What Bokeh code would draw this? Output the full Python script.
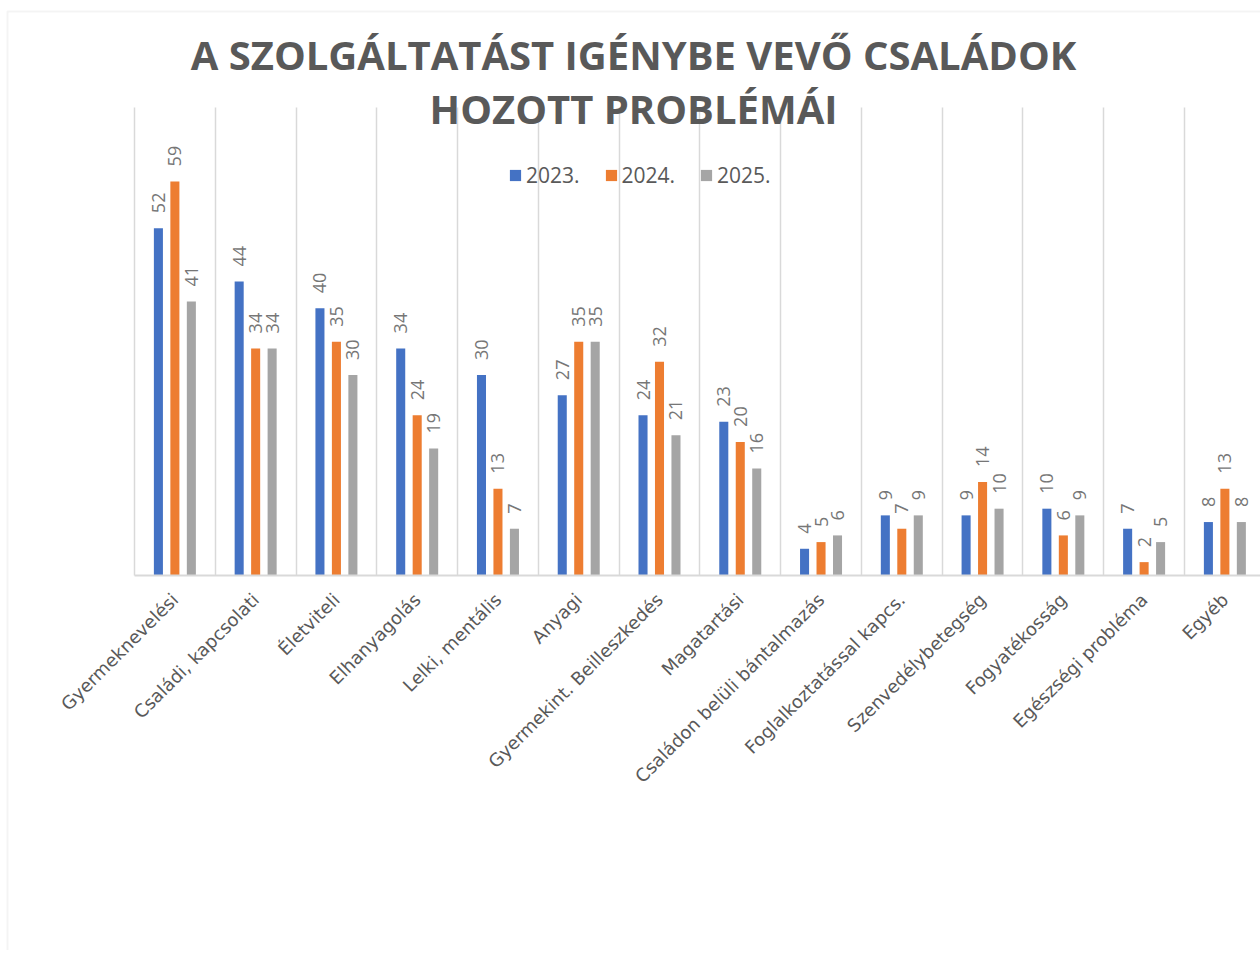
import math
from bokeh.plotting import figure
from bokeh.models import (Range1d, FixedTicker, Legend, LegendItem, Label,
                          BoxAnnotation, ColumnDataSource)
from bokeh.core.properties import value
from bokeh.embed import file_html
from bokeh.resources import INLINE

categories = ["Gyermeknevelési", "Családi, kapcsolati", "Életviteli", "Elhanyagolás",
              "Lelki, mentális", "Anyagi", "Gyermekint. Beilleszkedés", "Magatartási",
              "Családon belüli bántalmazás", "Foglalkoztatással kapcs.",
              "Szenvedélybetegség", "Fogyatékosság", "Egészségi probléma", "Egyéb"]
v2023 = [52, 44, 40, 34, 30, 27, 24, 23, 4, 9, 9, 10, 7, 8]
v2024 = [59, 34, 35, 24, 13, 35, 32, 20, 5, 7, 14, 6, 2, 13]
v2025 = [41, 34, 30, 19, 7, 35, 21, 16, 6, 9, 10, 9, 5, 8]
series_names = ["2023.", "2024.", "2025."]
colors = ["#4472C4", "#ED7D31", "#A5A5A5"]
title_lines = ["A SZOLGÁLTATÁST IGÉNYBE VEVŐ CSALÁDOK", "HOZOTT PROBLÉMÁI"]
y_max = 70

W, H = 1260, 950
p = figure(width=W, height=H, output_backend="svg", toolbar_location=None,
           x_range=Range1d(-2.1095, 13.441), y_range=Range1d(-56.14, 85.18),
           y_axis_location=None, min_border_left=4, min_border_right=0,
           min_border_top=6, min_border_bottom=0)
p.title.visible = False
p.outline_line_color = None
p.background_fill_color = "white"
p.border_fill_color = "white"

# vertical grid at category boundaries, limited to the plotting band
p.xgrid.ticker = FixedTicker(ticks=[i - 0.5 for i in range(len(categories) + 1)])
p.xgrid.cross_bounds = (0, y_max)
p.xgrid.grid_line_color = "#d9d9d9"
p.xgrid.grid_line_width = 1.5
p.ygrid.visible = False

ax = p.xaxis[0]
ax.fixed_location = 0
ax.bounds = (-0.5, len(categories) - 0.5)
ax.ticker = FixedTicker(ticks=list(range(len(categories))))
ax.major_label_overrides = {i: c for i, c in enumerate(categories)}
ax.major_label_orientation = math.pi / 4
ax.major_tick_line_color = None
ax.minor_tick_line_color = None
ax.axis_line_color = "#d9d9d9"
ax.axis_line_width = 2
ax.major_label_text_font = "DejaVu Sans"
ax.major_label_text_font_size = "18px"
ax.major_label_text_color = "#595959"
ax.major_label_standoff = 15

offsets = [-0.204, 0.0, 0.204]
renderers = []
for k, vals in enumerate([v2023, v2024, v2025]):
    xs = [i + offsets[k] for i in range(len(categories))]
    src = ColumnDataSource(dict(x=xs, top=vals, lab=[str(v) for v in vals]))
    r = p.vbar(x="x", top="top", bottom=0, width=0.112, source=src,
               fill_color=colors[k], line_color=None)
    renderers.append(r)
    p.text(x="x", y="top", text="lab", source=src, angle=math.pi / 2,
           text_align="left", text_baseline="middle", y_offset=-15,
           text_font=value("Open Sans"), text_font_size="18px",
           text_color="#767676")

legend = Legend(items=[LegendItem(label=series_names[k], renderers=[renderers[k]])
                       for k in range(3)],
                orientation="horizontal", location=(504, 761),
                glyph_width=14, glyph_height=14, label_standoff=4, spacing=24,
                padding=0, margin=0, border_line_alpha=0, background_fill_alpha=0,
                label_text_font="Open Sans", label_text_font_size="21px",
                label_text_color="#595959", label_height=20)
p.add_layout(legend, "center")

for line, y in zip(title_lines, [54, 108]):
    p.add_layout(Label(x=633, y=y, x_units="canvas", y_units="canvas", text=line,
                       text_align="center", text_baseline="alphabetic",
                       text_font="Open Sans", text_font_style="bold",
                       text_font_size="40px", text_color="#595959"))

p.add_layout(BoxAnnotation(left=7, right=3000, top=11, bottom=3000,
                           left_units="canvas", right_units="canvas",
                           top_units="canvas", bottom_units="canvas",
                           fill_alpha=0, line_color="#d9d9d9", line_width=2))

open("out.html", "w").write(file_html(p, INLINE))
